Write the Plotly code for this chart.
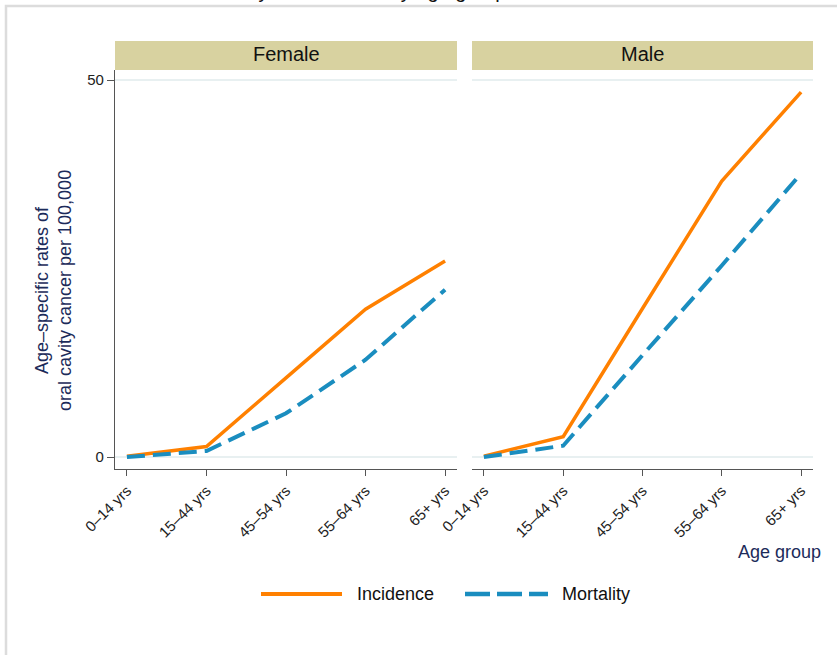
import plotly.graph_objects as go

# Age-specific oral cavity cancer rates per 100,000, by sex
age_groups = ["0\u201314 yrs", "15\u201344 yrs", "45\u201354 yrs", "55\u201364 yrs", "65+ yrs"]
female_incidence = [0.1, 1.4, 10.5, 19.6, 26.0]
female_mortality = [0.0, 0.8, 5.8, 12.9, 22.2]
male_incidence = [0.1, 2.7, 19.7, 36.6, 48.4]
male_mortality = [0.0, 1.5, 13.5, 25.4, 37.6]
panels = ["Female", "Male"]
y_ticks = [0, 50]

W, H = 837, 655
ORANGE = "#FF8000"
BLUE = "#1A8DBF"
NAVY = "#1C2B5A"
STRIP = "#D8D2A0"
GRID = "#E8F0F1"
FONT = "Liberation Sans, Arial, sans-serif"


def px_x(p):
    return p / W


def px_y(p):
    return 1 - p / H


x_pos = list(range(len(age_groups)))
fig = go.Figure()

series = [
    (female_incidence, female_mortality, "x", "y"),
    (male_incidence, male_mortality, "x2", "y2"),
]
for inc, mort, xa, ya in series:
    fig.add_trace(go.Scatter(x=x_pos, y=inc, mode="lines", xaxis=xa, yaxis=ya,
                             line=dict(color=ORANGE, width=3.5), showlegend=False,
                             name="Incidence"))
    fig.add_trace(go.Scatter(x=x_pos, y=mort, mode="lines", xaxis=xa, yaxis=ya,
                             line=dict(color=BLUE, width=4, dash="18px,8px"),
                             showlegend=False, name="Mortality"))

plot_top, plot_bottom = 70, 469
x_domains = [(115, 457), (472, 813)]
xr = [-0.15, 4.15]
yr = [-1.59, 51.33]

common_x = dict(range=xr, tickmode="array", tickvals=x_pos, ticktext=age_groups,
                tickangle=-45, ticks="outside", ticklen=6, tickcolor="#555555",
                showline=True, linecolor="#555555", linewidth=1.3, showgrid=False,
                zeroline=False, automargin=False,
                tickfont=dict(family=FONT, size=15, color="#222222"))
fig.update_layout(
    xaxis=dict(domain=[px_x(x_domains[0][0]), px_x(x_domains[0][1])], anchor="y", **common_x),
    xaxis2=dict(domain=[px_x(x_domains[1][0]), px_x(x_domains[1][1])], anchor="y2", **common_x),
    yaxis=dict(domain=[px_y(plot_bottom), px_y(plot_top)], range=yr, tickmode="array",
               tickvals=y_ticks, ticks="outside", ticklen=7, tickcolor="#555555",
               showline=True, linecolor="#555555", linewidth=1.3, showgrid=True,
               gridcolor=GRID, gridwidth=1.5, zeroline=False, anchor="x",
               automargin=False,
               tickfont=dict(family=FONT, size=15, color="#222222")),
    yaxis2=dict(domain=[px_y(plot_bottom), px_y(plot_top)], range=yr, tickmode="array",
                tickvals=y_ticks, showticklabels=False, ticks="", showline=False,
                showgrid=True, gridcolor=GRID, gridwidth=1.5, zeroline=False, anchor="x2",
                automargin=False),
)

shapes = []
annotations = []

# outer graph frame
shapes.append(dict(type="rect", xref="paper", yref="paper",
                   x0=px_x(6), x1=px_x(900), y0=px_y(720), y1=px_y(6),
                   line=dict(color="#DCDCDC", width=2.5), fillcolor="rgba(0,0,0,0)"))

# panel strips with sex labels
for (x0, x1), label in zip(x_domains, panels):
    shapes.append(dict(type="rect", xref="paper", yref="paper",
                       x0=px_x(x0), x1=px_x(x1), y0=px_y(70), y1=px_y(41),
                       line=dict(width=0), fillcolor=STRIP, layer="below"))
    annotations.append(dict(text=label, xref="paper", yref="paper",
                            x=px_x((x0 + x1) / 2), y=px_y(54), showarrow=False,
                            xanchor="center", yanchor="middle",
                            font=dict(family=FONT, size=20, color="#111111")))

# title (extends above the top edge of the page)
annotations.append(dict(text="Oral cavity cancer rates by age group and sex",
                        xref="paper", yref="paper", x=px_x(172), y=px_y(4),
                        xanchor="left", yanchor="bottom", showarrow=False,
                        font=dict(family=FONT, size=20, color="#111111")))

# y-axis title
annotations.append(dict(text="Age\u2013specific rates of<br>oral cavity cancer per 100,000",
                        xref="paper", yref="paper", x=px_x(54), y=px_y(291),
                        xanchor="center", yanchor="middle", textangle=-90,
                        showarrow=False,
                        font=dict(family=FONT, size=18, color=NAVY)))

# x-axis title
annotations.append(dict(text="Age group", xref="paper", yref="paper",
                        x=px_x(823), y=px_y(552), xanchor="right", yanchor="middle",
                        showarrow=False, font=dict(family=FONT, size=18, color=NAVY)))

# legend keys
shapes.append(dict(type="line", xref="paper", yref="paper", x0=px_x(261), x1=px_x(342),
                   y0=px_y(594), y1=px_y(594), line=dict(color=ORANGE, width=4)))
shapes.append(dict(type="line", xref="paper", yref="paper", x0=px_x(465), x1=px_x(548),
                   y0=px_y(594), y1=px_y(594),
                   line=dict(color=BLUE, width=4.5, dash="25px,7px")))
annotations.append(dict(text="Incidence", xref="paper", yref="paper", x=px_x(355),
                        y=px_y(594), xanchor="left", yanchor="middle", showarrow=False,
                        font=dict(family=FONT, size=18, color="#111111")))
annotations.append(dict(text="Mortality", xref="paper", yref="paper", x=px_x(560),
                        y=px_y(594), xanchor="left", yanchor="middle", showarrow=False,
                        font=dict(family=FONT, size=18, color="#111111")))

fig.update_layout(
    width=W, height=H,
    margin=dict(l=0, r=0, t=0, b=0),
    paper_bgcolor="white", plot_bgcolor="white",
    shapes=shapes, annotations=annotations,
    showlegend=False,
    font=dict(family=FONT),
)

fig.write_html("out.html", config={"displayModeBar": False})
